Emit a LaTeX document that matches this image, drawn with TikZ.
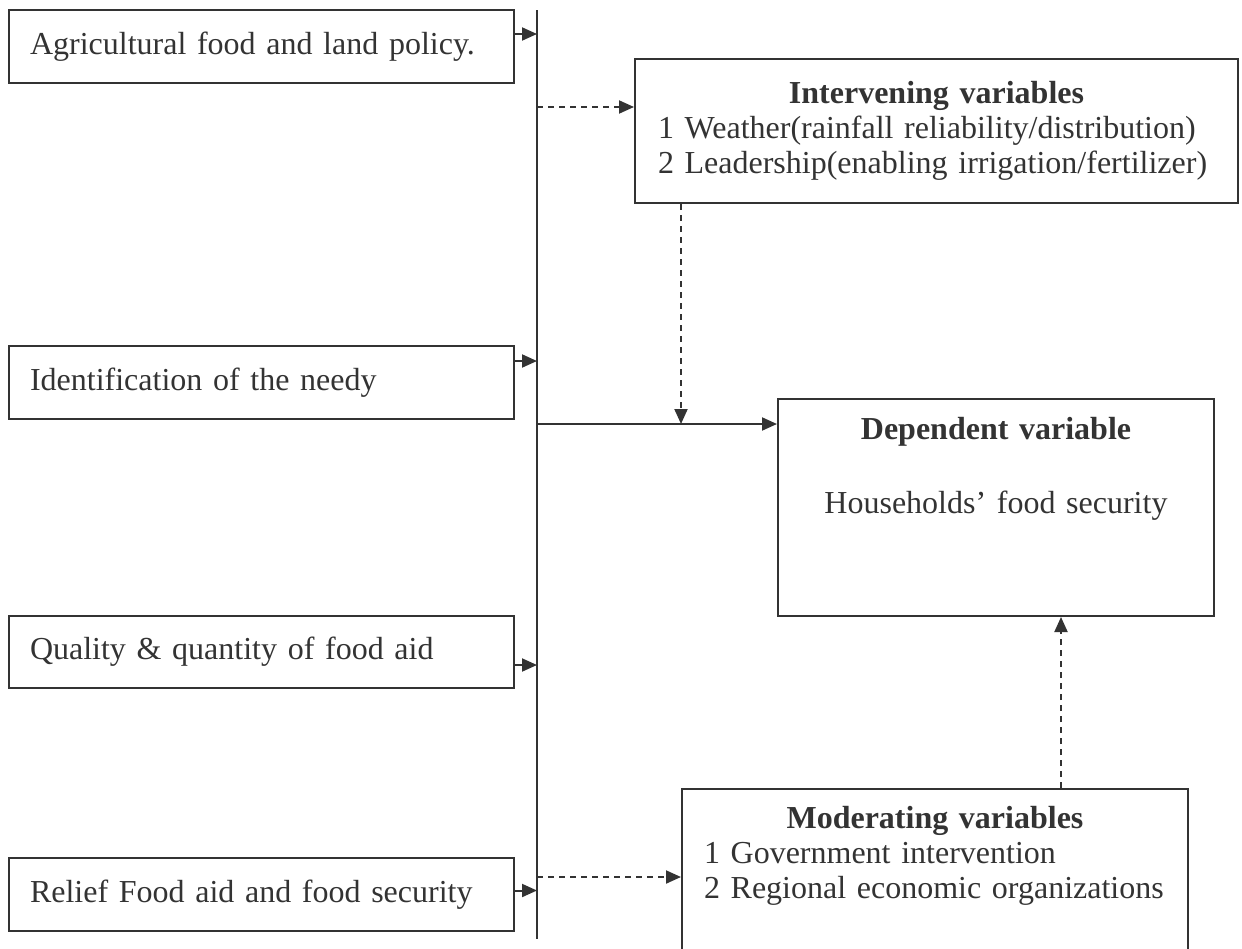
\documentclass[tikz,border=0pt]{standalone}
\usepackage{fontspec}
\setmainfont[WordSpace=0.85]{Liberation Serif}
\usetikzlibrary{positioning,arrows.meta}
\tikzset{factor/.style={draw,line width=1pt,anchor=north west,inner xsep=10.5pt,inner ysep=0pt,text width=231.5pt,minimum height=36.5pt,align=left},
         varbox/.style={draw,line width=1pt,anchor=north west,inner ysep=0pt},
         line/.style={line width=1pt,-{Triangle[length=7.5pt,width=6.5pt]}},
         dline/.style={line,dash pattern=on 3pt off 2.5pt}
}

\begin{document}
\begin{tikzpicture}[x=0.5pt,y=-0.5pt,font=\fontsize{16}{17.5}\selectfont,color=black!80]
\useasboundingbox (0,0) rectangle (1242,948);

% independent factors
\node[factor] (agri) at (8,9) {Agricultural food and land policy.};
\node[factor] (needy) at (8,345) {Identification of the needy};
\node[factor,minimum height=36pt] (aid) at (8,615) {Quality \& quantity of food aid};
\node[factor] (relief) at (8,857) {Relief Food aid and food security};

% other variables
\node[varbox,inner xsep=11.5pt,text width=278.5pt,align=left,text height=22pt,text depth=50pt] (inter) at (634,58) {\makebox[\linewidth]{\textbf{Intervening variables}}\\1 Weather(rainfall reliability/distribution)\\2 Leadership(enabling irrigation/fertilizer)};
\node[varbox,inner xsep=0pt,text width=218pt,align=center,text height=20pt,text depth=88.5pt] (dep) at (777,398) {\textbf{Dependent variable}\\[19.5pt]Households’ food security};
\node[varbox,inner xsep=11pt,text width=231pt,align=left,text height=19.5pt,text depth=75pt] (mod) at (681,788) {\makebox[\linewidth]{\textbf{Moderating variables}}\\1 Government intervention\\2 Regional economic organizations};

\coordinate (bustop) at (537,10);
\coordinate (busbot) at (537,939);
\draw[line width=1pt] (bustop) -- (busbot);

\coordinate (agriout) at ([yshift=6.25pt]agri.east);
\coordinate (needyout) at ([yshift=10.75pt]needy.east);
\coordinate (aidout) at ([yshift=-6.5pt]aid.east);
\coordinate (reliefout) at ([yshift=2pt]relief.east);
\draw[line] (agriout) -- (agriout -| bustop);
\draw[line] (needyout) -- (needyout -| bustop);
\draw[line] (aidout) -- (aidout -| bustop);
\draw[line] (reliefout) -- (reliefout -| bustop);

\coordinate (interin) at ([yshift=12pt]inter.west);
\coordinate (depin) at ([yshift=41.75pt]dep.west);
\coordinate (modin) at ([yshift=-44.5pt]mod.north west);
\coordinate (interout) at ([xshift=23.5pt]inter.south west);
\coordinate (modout) at ([xshift=190pt]mod.north west);
\draw[dline] (interin -| bustop) -- (interin);
\draw[line] (depin -| bustop) -- (depin);
\draw[dline] (interout) -- (interout |- depin);
\draw[dline] (modin -| bustop) -- (modin);
\draw[dline] (modout) -- (modout |- dep.south);

\end{tikzpicture}
\end{document}
